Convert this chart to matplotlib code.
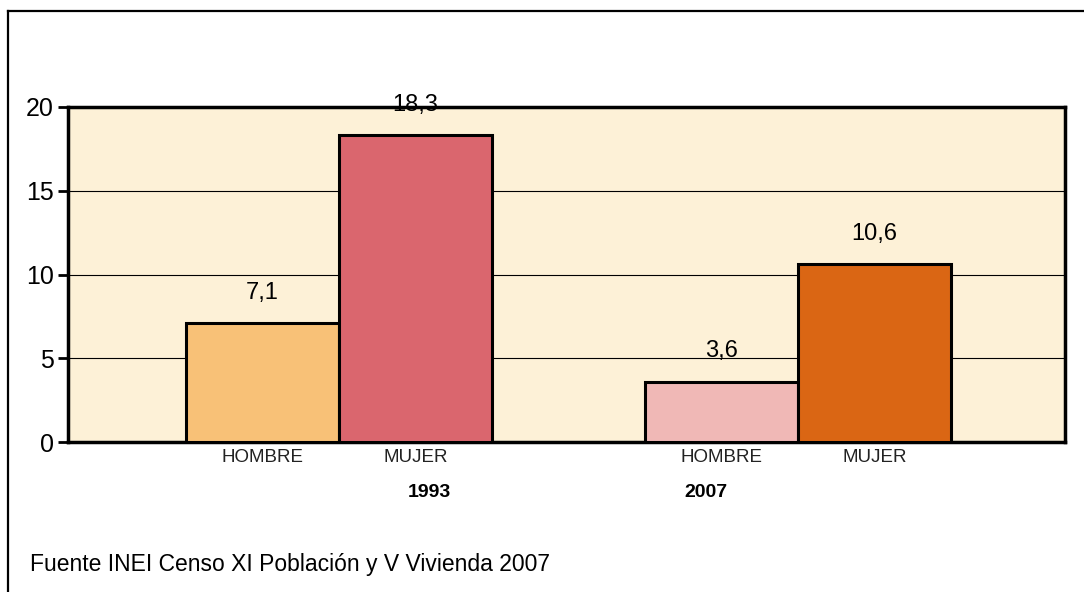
import matplotlib.pyplot as plt
from matplotlib.lines import Line2D

plt.rcParams["font.family"] = ["Liberation Sans", "DejaVu Sans"]

years = ["1993", "2007"]
sexes = ["HOMBRE", "MUJER"]
values = {"1993": [7.1, 18.3], "2007": [3.6, 10.6]}
colors = {"1993": ["#F8C177", "#DA666E"], "2007": ["#F0B8B6", "#DA6614"]}
yticks = [0, 5, 10, 15, 20]
source = "Fuente INEI Censo XI Población y V Vivienda 2007"

W, H = 1084, 592
fig = plt.figure(figsize=(W / 100, H / 100), dpi=100)
ax = fig.add_axes([68 / W, 1 - 442 / H, 997 / W, 335 / H])
ax.set_facecolor("#FDF1D7")

centers = [0, 3]
for c, year in zip(centers, years):
    for k, (v, col) in enumerate(zip(values[year], colors[year])):
        x = c - 0.5 + k
        ax.bar(x, v, width=1, color=col, edgecolor="black", linewidth=2.2, zorder=3)
        ax.annotate(f"{v:.1f}".replace(".", ","), (x, v), xytext=(0, 22),
                    textcoords="offset points", ha="center", va="center", fontsize=17)
        ax.text(x, -0.9, sexes[k], ha="center", va="center", fontsize=13.5,
                color="#222222")

# year labels sit under the bars as in the original
ax.text(0.59, -3.0, years[0], ha="center", va="center", fontsize=14, fontweight="bold")
ax.text(2.40, -3.0, years[1], ha="center", va="center", fontsize=14, fontweight="bold")

ax.set_xlim(-1.771, 4.745)
ax.set_ylim(0, 20)
ax.set_yticks(yticks)
ax.set_yticklabels([str(t) for t in yticks], fontsize=18)
ax.set_xticks([])
ax.tick_params(axis="y", length=7, width=2, pad=3)
for y in yticks[1:-1]:
    ax.axhline(y, color="black", linewidth=0.8, zorder=1)
for s in ax.spines.values():
    s.set_linewidth(2.5)
ax.set_axisbelow(True)

fig.text(30 / W, 1 - 564 / H, source, ha="left", va="center", fontsize=16.5)

# frame: only top and left edges are visible in the original
fig.add_artist(Line2D([8 / W, 1], [1 - 11 / H, 1 - 11 / H], transform=fig.transFigure,
                      color="black", linewidth=1.6))
fig.add_artist(Line2D([8 / W, 8 / W], [0, 1 - 11 / H], transform=fig.transFigure,
                      color="black", linewidth=1.6))

fig.savefig("out.png", dpi=100)
